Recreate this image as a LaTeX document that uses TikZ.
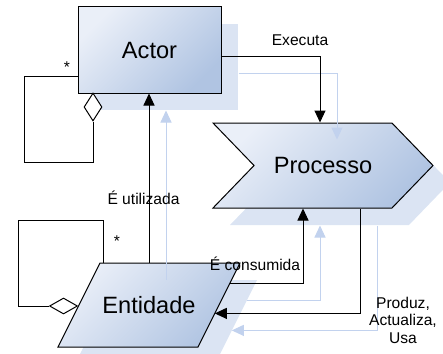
\documentclass[tikz,border=0pt]{standalone}
\usepackage{fontspec}
\setmainfont{Liberation Sans}
\usetikzlibrary{arrows.meta,shapes.geometric,shapes.symbols,shadows,calc}

\definecolor{boxlight}{RGB}{234,239,248}
\definecolor{boxdark}{RGB}{176,196,226}
\definecolor{shadowfill}{RGB}{219,228,243}
\definecolor{shadowline}{RGB}{194,210,238}

\tikzset{
  element/.style={draw, line width=1pt, top color=boxlight, bottom color=boxdark,
    shading angle=45, inner sep=0pt, font=\fontsize{23.6}{28}\selectfont,
    general shadow={fill=shadowfill, shadow xshift=17pt, shadow yshift=-17pt}},
  aggr/.style={diamond, draw, fill=white, line width=1pt, inner sep=0pt},
  link/.style={line width=1pt, -{Triangle[length=12pt,width=11pt]}},
  shadowlink/.style={line width=1pt, draw=shadowline,
    -{Triangle[length=12pt,width=11pt,fill=shadowline]}},
  loop/.style={line width=1pt},
  lbl/.style={font=\fontsize{15.6}{17.5}\selectfont, inner sep=0pt, align=center}
}

% the four relations, drawn once as shadow and once for real
\newcommand\relations[1]{%
  \draw[#1] (actor.east |- 0,56) -| (320,0 |- processo.north);
  \draw[#1] (entidade.north) -- (entidade.north |- actor.south);
  \draw[#1] (ec) -| (303,0 |- processo.south);
  \draw[#1] (360,0 |- processo.south) |- (ep);
}

\begin{document}
\begin{tikzpicture}[x=1pt, y=-1pt]
      \useasboundingbox (0,0) rectangle (443,353);

      % Actor:
      %   whoever runs the processes
      \node[element, minimum width=143pt, minimum height=86pt] (actor) at (149.5,50) {Actor};
      % Processo:
      %   the process, drawn as a chevron
      \node[element, signal, signal from=west, signal to=east, signal pointer angle=92,
            minimum width=220pt, minimum height=85pt] (processo) at (323,165.5) {Processo};
      % Entidade:
      %   the data the process works on, a parallelogram
      \path[element] (100,263) coordinate (etl) -- (240,263) coordinate (etr)
        -- (198,347) coordinate (ebr) -- (58,347) coordinate (ebl) -- cycle;
      \node[minimum width=140pt, minimum height=84pt, inner sep=0pt,
            font=\fontsize{23.6}{28}\selectfont] (entidade) at (149,305) {Entidade};

      \coordinate (ec) at ($(etr)!0.24!(ebr)$);
      \coordinate (ep) at ($(etr)!0.6!(ebr)$);

      % shadows of the relations
      \begin{scope}[transform canvas={shift={(17pt,-17pt)}}]
        \relations{shadowlink}
      \end{scope}
      \relations{link}

      % self relations with aggregation
      \node[aggr, minimum width=18pt, minimum height=28pt] (actordia) at (93,107) {};
      \draw[loop] ([yshift=-26pt]actor.west) -| (24,162) -| (actordia.south);
      \node[aggr, minimum width=28pt, minimum height=16pt] (entdia) at (63.5,306) {};
      \draw[loop] (103,0 |- entidade.north) |- (18,220) |- (entdia.west);

      % labels
      \node[lbl] (actorstar) at (67,67) {*};
      \node[lbl] (entstar) at (117,241) {*};
      \node[lbl] (executa) at (300,40) {Executa};
      \node[lbl] (utilizada) at (143.5,198) {É utilizada};
      \node[lbl] (consumida) at (255,264) {É consumida};
      \node[lbl] (produz) at (403,320) {Produz,\\Actualiza,\\Usa};
\end{tikzpicture}
\end{document}
